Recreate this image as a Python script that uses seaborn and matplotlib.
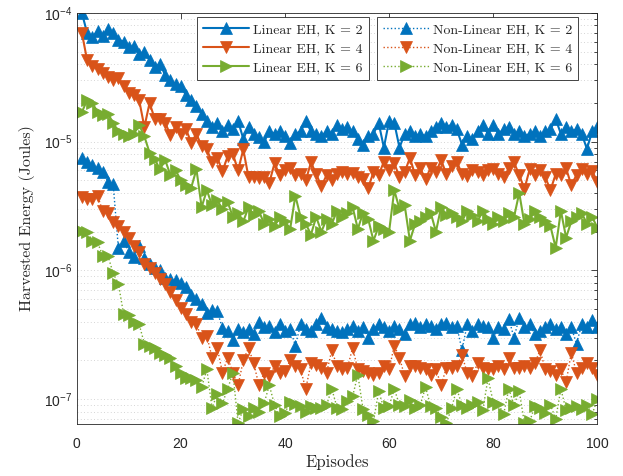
import numpy as np
import pandas as pd
import matplotlib
matplotlib.use("Agg")
import matplotlib.pyplot as plt
import matplotlib.ticker as mticker
import seaborn as sns

episodes = list(range(1, 101))

lin_k2 = [1.0e-4, 7.0e-5, 6.5e-5, 7.2e-5, 6.6e-5, 7.5e-5, 7.0e-5, 6.2e-5, 6.0e-5, 5.4e-5,
          5.5e-5, 4.8e-5, 5.0e-5, 4.3e-5, 3.8e-5, 4.0e-5, 3.3e-5, 3.0e-5, 2.8e-5, 2.7e-5,
          2.3e-5, 2.1e-5, 1.9e-5, 1.65e-5, 1.45e-5, 1.3e-5, 1.4e-5, 1.2e-5, 1.35e-5, 1.25e-5,
          1.45e-5, 1.05e-5, 1.3e-5, 1.15e-5, 1.08e-5, 1.0e-5, 1.2e-5, 1.15e-5, 1.2e-5, 1.1e-5,
          9.8e-6, 1.15e-5, 1.2e-5, 1.45e-5, 1.2e-5, 1.15e-5, 1.1e-5, 1.2e-5, 1.15e-5, 1.35e-5,
          1.25e-5, 1.3e-5, 1.2e-5, 1.05e-5, 9.5e-6, 1.1e-5, 1.15e-5, 1.4e-5, 9.0e-6, 1.45e-5,
          1.4e-5, 9.0e-6, 1.15e-5, 1.2e-5, 1.1e-5, 1.15e-5, 1.1e-5, 1.2e-5, 1.3e-5, 1.4e-5,
          1.3e-5, 1.35e-5, 1.25e-5, 9.5e-6, 1.1e-5, 1.05e-5, 1.2e-5, 1.35e-5, 1.15e-5, 1.35e-5,
          1.15e-5, 1.25e-5, 1.3e-5, 1.15e-5, 1.2e-5, 1.1e-5, 1.15e-5, 1.2e-5, 1.1e-5, 1.2e-5,
          1.25e-5, 1.5e-5, 1.15e-5, 1.3e-5, 1.2e-5, 1.25e-5, 1.15e-5, 8.8e-6, 1.2e-5, 1.3e-5]

lin_k4 = [7.0e-5, 4.3e-5, 3.9e-5, 3.7e-5, 3.4e-5, 3.2e-5, 3.0e-5, 3.1e-5, 2.7e-5, 2.4e-5,
          2.3e-5, 2.1e-5, 1.3e-5, 2.0e-5, 1.5e-5, 1.5e-5, 1.4e-5, 1.13e-5, 1.3e-5, 1.15e-5,
          1.25e-5, 9.8e-6, 1.15e-5, 9.2e-6, 8.7e-6, 6.9e-6, 7.5e-6, 5.9e-6, 7.7e-6, 8.0e-6,
          6.0e-6, 8.7e-6, 5.3e-6, 5.3e-6, 5.2e-6, 5.3e-6, 4.8e-6, 6.8e-6, 5.5e-6, 6.0e-6,
          6.2e-6, 5.5e-6, 5.6e-6, 5.0e-6, 6.9e-6, 5.6e-6, 4.5e-6, 5.5e-6, 5.0e-6, 5.6e-6,
          5.8e-6, 5.6e-6, 5.7e-6, 5.3e-6, 5.1e-6, 4.4e-6, 5.8e-6, 5.5e-6, 7.0e-6, 6.0e-6,
          6.8e-6, 5.3e-6, 5.8e-6, 7.5e-6, 5.5e-6, 6.2e-6, 5.1e-6, 6.3e-6, 5.8e-6, 7.2e-6,
          5.6e-6, 6.5e-6, 7.0e-6, 5.6e-6, 5.4e-6, 6.0e-6, 5.8e-6, 5.5e-6, 6.0e-6, 6.1e-6,
          5.6e-6, 5.3e-6, 6.2e-6, 6.9e-6, 5.5e-6, 4.3e-6, 6.1e-6, 5.5e-6, 6.0e-6, 5.3e-6,
          4.2e-6, 5.6e-6, 5.5e-6, 6.2e-6, 4.6e-6, 5.5e-6, 6.1e-6, 5.6e-6, 5.9e-6, 4.9e-6]

lin_k6 = [1.7e-5, 2.1e-5, 2.0e-5, 1.7e-5, 1.6e-5, 1.65e-5, 1.4e-5, 1.2e-5, 1.15e-5, 1.1e-5,
          1.15e-5, 1.35e-5, 1.1e-5, 8.2e-6, 7.3e-6, 6.1e-6, 7.2e-6, 5.5e-6, 6.0e-6, 5.0e-6,
          4.6e-6, 4.4e-6, 6.1e-6, 3.1e-6, 4.2e-6, 3.2e-6, 3.5e-6, 3.0e-6, 3.4e-6, 2.6e-6,
          2.8e-6, 2.4e-6, 3.1e-6, 2.7e-6, 2.9e-6, 2.3e-6, 2.5e-6, 2.2e-6, 2.6e-6, 2.4e-6,
          2.1e-6, 3.8e-6, 2.6e-6, 2.3e-6, 1.9e-6, 2.6e-6, 2.0e-6, 2.5e-6, 2.3e-6, 2.9e-6,
          2.6e-6, 2.8e-6, 3.1e-6, 2.1e-6, 2.8e-6, 2.5e-6, 1.7e-6, 2.2e-6, 2.1e-6, 2.0e-6,
          4.2e-6, 3.0e-6, 3.2e-6, 1.7e-6, 2.3e-6, 2.4e-6, 2.6e-6, 2.8e-6, 2.0e-6, 3.1e-6,
          2.7e-6, 2.8e-6, 2.6e-6, 2.4e-6, 2.9e-6, 2.7e-6, 2.4e-6, 2.9e-6, 2.5e-6, 2.3e-6,
          2.6e-6, 2.4e-6, 2.8e-6, 2.6e-6, 4.0e-6, 2.3e-6, 2.5e-6, 2.9e-6, 2.6e-6, 2.4e-6,
          2.2e-6, 1.5e-6, 2.9e-6, 1.8e-6, 2.4e-6, 2.6e-6, 2.8e-6, 2.3e-6, 2.6e-6, 2.15e-6]

nl_k2 = [7.5e-6, 7.0e-6, 6.6e-6, 6.2e-6, 5.8e-6, 4.9e-6, 4.7e-6, 1.5e-6, 1.7e-6, 1.4e-6,
         1.26e-6, 1.56e-6, 1.25e-6, 1.13e-6, 1.05e-6, 1.0e-6, 8.8e-7, 8.6e-7, 8.4e-7, 8.0e-7,
         7.4e-7, 6.4e-7, 6.0e-7, 5.5e-7, 4.7e-7, 4.9e-7, 4.8e-7, 3.55e-7, 3.4e-7, 2.9e-7,
         3.5e-7, 3.3e-7, 3.5e-7, 3.2e-7, 4.0e-7, 3.6e-7, 3.7e-7, 3.3e-7, 3.8e-7, 3.4e-7,
         3.5e-7, 2.6e-7, 3.8e-7, 3.5e-7, 3.4e-7, 3.8e-7, 4.3e-7, 3.6e-7, 3.5e-7, 3.4e-7,
         3.3e-7, 3.5e-7, 3.7e-7, 3.4e-7, 3.6e-7, 3.0e-7, 3.5e-7, 3.8e-7, 3.6e-7, 3.4e-7,
         3.7e-7, 3.5e-7, 3.2e-7, 3.8e-7, 3.9e-7, 3.6e-7, 3.8e-7, 3.7e-7, 3.5e-7, 3.8e-7,
         3.9e-7, 3.6e-7, 3.7e-7, 2.4e-7, 3.8e-7, 3.4e-7, 3.8e-7, 3.7e-7, 3.6e-7, 3.0e-7,
         3.6e-7, 3.5e-7, 4.2e-7, 3.0e-7, 4.3e-7, 3.6e-7, 3.8e-7, 3.2e-7, 3.4e-7, 3.6e-7,
         3.8e-7, 3.5e-7, 3.6e-7, 3.2e-7, 3.6e-7, 2.7e-7, 3.8e-7, 3.6e-7, 4.1e-7, 3.6e-7]

nl_k4 = [3.7e-6, 3.6e-6, 3.6e-6, 3.8e-6, 2.9e-6, 2.8e-6, 2.36e-6, 2.2e-6, 1.97e-6, 1.8e-6,
         1.56e-6, 1.4e-6, 1.13e-6, 1.05e-6, 9.5e-7, 8.5e-7, 7.9e-7, 6.8e-7, 5.9e-7, 5.1e-7,
         4.6e-7, 4.0e-7, 3.8e-7, 3.0e-7, 3.1e-7, 2.1e-7, 2.5e-7, 1.6e-7, 2.1e-7, 1.6e-7,
         1.28e-7, 2.0e-7, 2.5e-7, 1.9e-7, 1.28e-7, 1.6e-7, 1.5e-7, 1.8e-7, 1.6e-7, 1.65e-7,
         2.0e-7, 1.8e-7, 1.7e-7, 1.2e-7, 1.9e-7, 1.85e-7, 1.75e-7, 1.6e-7, 2.4e-7, 1.8e-7,
         1.7e-7, 1.75e-7, 2.5e-7, 1.7e-7, 1.65e-7, 1.6e-7, 1.55e-7, 1.6e-7, 1.8e-7, 1.7e-7,
         2.6e-7, 2.1e-7, 1.5e-7, 1.8e-7, 1.8e-7, 1.75e-7, 1.7e-7, 1.55e-7, 1.7e-7, 1.28e-7,
         1.75e-7, 1.75e-7, 1.8e-7, 2.2e-7, 1.6e-7, 1.5e-7, 1.9e-7, 1.75e-7, 1.7e-7, 1.7e-7,
         1.8e-7, 1.7e-7, 2.1e-7, 1.75e-7, 1.75e-7, 1.8e-7, 1.75e-7, 1.9e-7, 2.4e-7, 1.7e-7,
         1.65e-7, 1.55e-7, 1.7e-7, 1.35e-7, 2.3e-7, 1.6e-7, 1.75e-7, 1.9e-7, 1.75e-7, 1.55e-7]

nl_k6 = [2.04e-6, 2.0e-6, 1.7e-6, 1.65e-6, 1.3e-6, 1.3e-6, 9.5e-7, 7.9e-7, 4.6e-7, 4.5e-7,
         4.0e-7, 3.8e-7, 2.7e-7, 2.6e-7, 2.5e-7, 2.3e-7, 2.2e-7, 2.1e-7, 1.8e-7, 1.6e-7,
         1.45e-7, 1.45e-7, 1.4e-7, 1.24e-7, 1.7e-7, 8.5e-8, 1.1e-7, 9.3e-8, 1.2e-7, 1.6e-7,
         6.5e-8, 8.4e-8, 7.4e-8, 8.6e-8, 8.0e-8, 9.3e-8, 1.28e-7, 9.0e-8, 7.4e-8, 7.8e-8,
         9.5e-8, 9.2e-8, 8.8e-8, 8.0e-8, 8.8e-8, 8.5e-8, 8.6e-8, 9.0e-8, 1.2e-7, 8.6e-8,
         8.3e-8, 9.6e-8, 1.05e-7, 1.55e-7, 8.3e-8, 7.5e-8, 6.7e-8, 1.15e-7, 8.5e-8, 8.8e-8,
         1.2e-7, 9.0e-8, 8.8e-8, 9.8e-8, 8.5e-8, 9.0e-8, 1.24e-7, 8.8e-8, 8.5e-8, 7.2e-8,
         6.5e-8, 8.5e-8, 1.2e-7, 9.0e-8, 8.5e-8, 9.0e-8, 9.5e-8, 8.2e-8, 1.45e-7, 9.5e-8,
         9.2e-8, 7.6e-8, 1.2e-7, 9.0e-8, 1.15e-7, 6.5e-8, 6.7e-8, 8.8e-8, 8.5e-8, 7.8e-8,
         9.0e-8, 7.0e-8, 1.2e-7, 8.2e-8, 8.6e-8, 8.8e-8, 8.4e-8, 9.0e-8, 7.6e-8, 1.0e-7]

labels_lin = ["Linear EH, K = 2", "Linear EH, K = 4", "Linear EH, K = 6"]
labels_nl = ["Non-Linear EH, K = 2", "Non-Linear EH, K = 4", "Non-Linear EH, K = 6"]
colors = ["#0072BD", "#D95319", "#77AC30"]
markers = ["^", "v", ">"]

sns.set_style("white")
plt.rcParams["font.family"] = ["Liberation Sans", "DejaVu Sans"]
plt.rcParams["mathtext.fontset"] = "custom"
plt.rcParams["mathtext.rm"] = "Liberation Sans"
plt.rcParams["mathtext.it"] = "Liberation Sans:italic"
plt.rcParams["mathtext.bf"] = "Liberation Sans:bold"
plt.rcParams["axes.formatter.use_mathtext"] = True
plt.rcParams["axes.unicode_minus"] = False
serif = ["cmr10", "DejaVu Serif"]

fig = plt.figure(figsize=(6.23, 4.76), dpi=100)
ax = fig.add_axes([0.1231, 0.1092, 0.8357, 0.8635])

lin_series = [lin_k2, lin_k4, lin_k6]
nl_series = [nl_k2, nl_k4, nl_k6]

lin_handles = []
nl_handles = []
for vals, lab, c, m in zip(lin_series, labels_lin, colors, markers):
    sns.lineplot(x=episodes, y=vals, ax=ax, color=c, marker=m, markersize=8,
                 markeredgecolor=c, markeredgewidth=0.5, linewidth=1.5,
                 linestyle="-", label=lab, legend=False)
    lin_handles.append(ax.lines[-1])
for vals, lab, c, m in zip(nl_series, labels_nl, colors, markers):
    sns.lineplot(x=episodes, y=vals, ax=ax, color=c, marker=m, markersize=8,
                 markeredgecolor=c, markeredgewidth=0.5, linewidth=1.0,
                 linestyle=":", label=lab, legend=False)
    nl_handles.append(ax.lines[-1])

ax.set_yscale("log")
ax.set_xlim(0, 100)
ax.set_ylim(6.4e-8, 1e-4)
ax.set_xticks([0, 20, 40, 60, 80, 100])
ax.yaxis.set_major_locator(mticker.LogLocator(base=10, numticks=10))
ax.yaxis.set_minor_locator(mticker.LogLocator(base=10, subs=np.arange(2, 10), numticks=20))
ax.yaxis.set_minor_formatter(mticker.NullFormatter())

ax.grid(False)
ax.yaxis.grid(True, which="both", linestyle=(0, (1, 3)), linewidth=0.6, color="#c8c8c8")
ax.set_axisbelow(True)

for s in ax.spines.values():
    s.set_linewidth(0.6)
    s.set_color("#262626")
ax.tick_params(which="both", direction="in", top=True, right=True, colors="#262626",
               labelsize=10, width=0.6)
ax.tick_params(which="major", length=4.5)
ax.tick_params(which="minor", length=2.5)
ax.tick_params(axis="x", pad=9)
ax.tick_params(axis="y", pad=3.5)

ax.set_xlabel("Episodes", fontsize=12, labelpad=3, family=serif)
ax.set_ylabel("Harvested Energy (Joules)", fontsize=11.5, labelpad=6, family=serif)

leg_kw = dict(loc="upper left", prop={"family": serif, "size": 10}, fancybox=False,
              edgecolor="#262626", framealpha=1, handlelength=3.3,
              borderpad=0.45, labelspacing=0.45, handletextpad=0.3,
              borderaxespad=0.0)
leg1 = ax.legend(handles=lin_handles, labels=labels_lin,
                 bbox_to_anchor=(0.231, 0.99), **leg_kw)
leg1.get_frame().set_linewidth(0.6)
ax.add_artist(leg1)
leg2 = ax.legend(handles=nl_handles, labels=labels_nl,
                 bbox_to_anchor=(0.576, 0.99), **leg_kw)
leg2.get_frame().set_linewidth(0.6)

fig.savefig("out.png", dpi=100)
